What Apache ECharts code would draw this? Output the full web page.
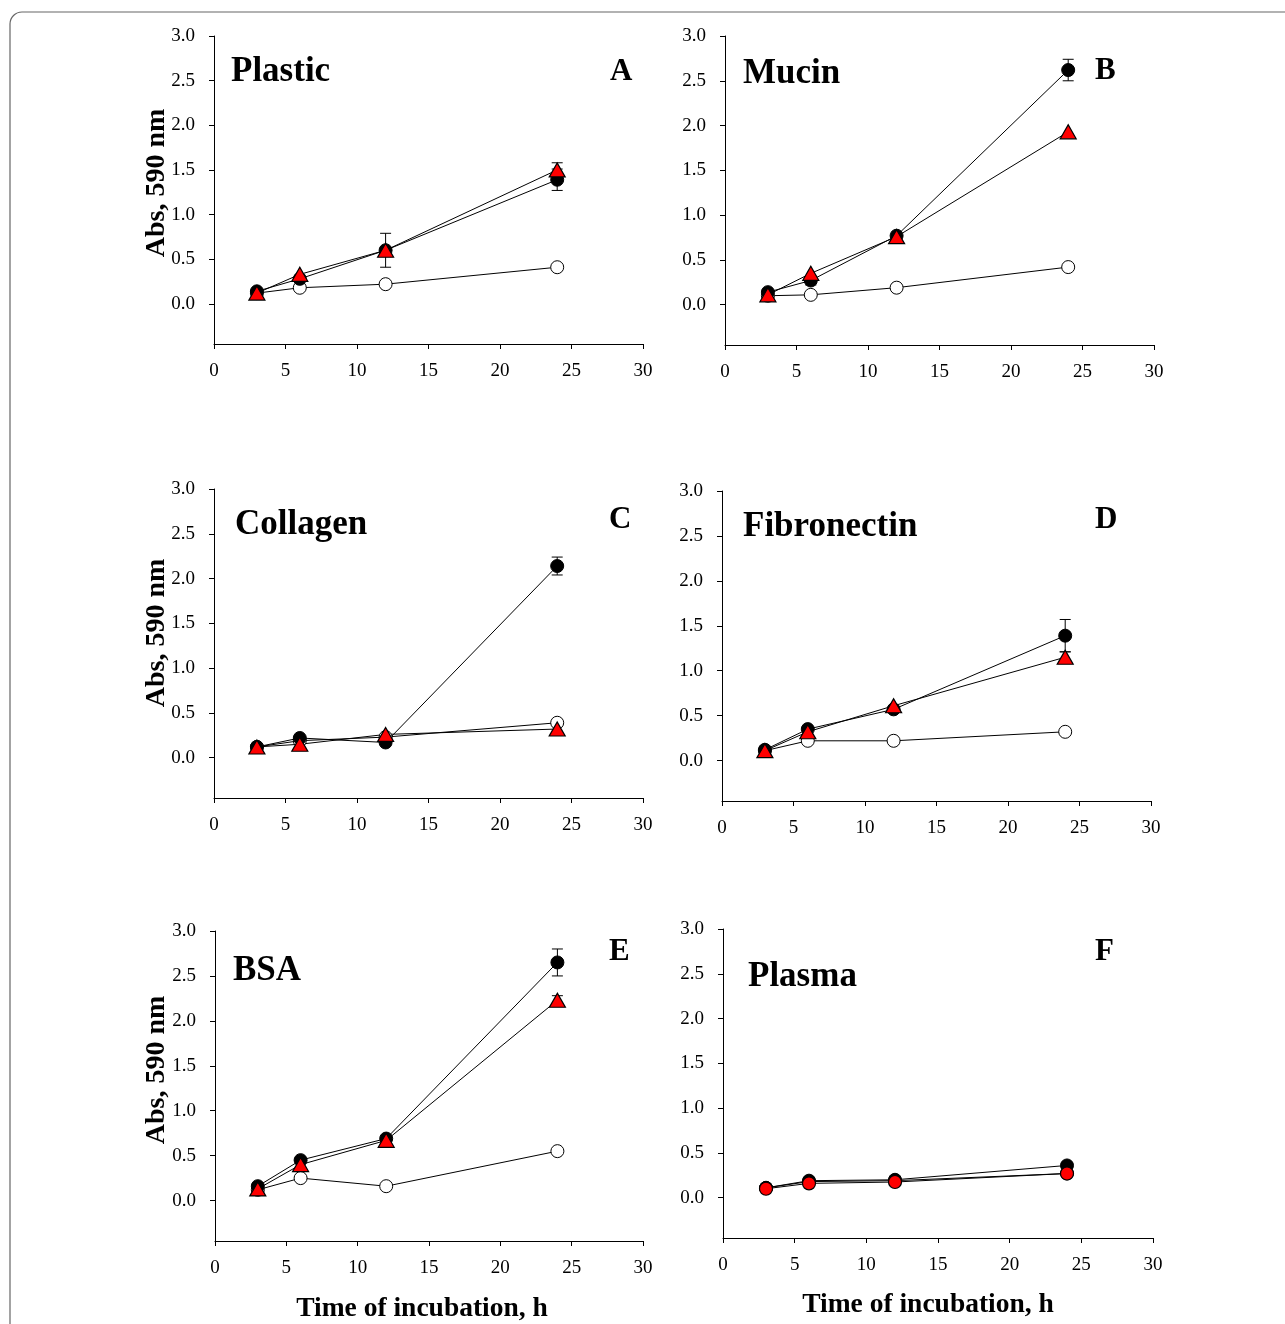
<!DOCTYPE html>
<html>
<head>
<meta charset="utf-8">
<script src="https://cdn.jsdelivr.net/npm/echarts@6/dist/echarts.min.js"></script>
<style>
  html, body { margin: 0; padding: 0; background: #fff; }
  #chart { width: 1285px; height: 1324px; }
</style>
</head>
<body>
<div id="chart"></div>
<script>
// time points (h) and axis ticks
const hours = [3, 6, 12, 24];
const xTicks = [0, 5, 10, 15, 20, 25, 30];
const yTicks = [0, 0.5, 1.0, 1.5, 2.0, 2.5, 3.0];

const panelNames = ["Plastic", "Mucin", "Collagen", "Fibronectin", "BSA", "Plasma"];
const panelLetters = ["A", "B", "C", "D", "E", "F"];

// one row per panel (A..F), one value per time point
const blackMeans = [
  [0.14, 0.28, 0.60, 1.39],
  [0.14, 0.27, 0.77, 2.62],
  [0.12, 0.22, 0.17, 2.14],
  [0.12, 0.35, 0.57, 1.39],
  [0.16, 0.45, 0.69, 2.65],
  [0.11, 0.19, 0.20, 0.36],
];
const blackErrors = [
  [0, 0, 0.19, 0.12],
  [0, 0.05, 0, 0.12],
  [0, 0, 0, 0.10],
  [0, 0, 0, 0.18],
  [0, 0, 0, 0.15],
  [0, 0, 0, 0.03],
];
const openMeans = [
  [0.12, 0.18, 0.22, 0.41],
  [0.10, 0.11, 0.19, 0.42],
  [0.12, 0.19, 0.23, 0.39],
  [0.11, 0.22, 0.22, 0.32],
  [0.12, 0.25, 0.16, 0.55],
  [0.11, 0.18, 0.19, 0.27],
];
const openErrors = [
  [0, 0, 0, 0],
  [0, 0, 0, 0.03],
  [0, 0, 0, 0],
  [0, 0, 0, 0],
  [0, 0, 0, 0],
  [0, 0, 0, 0],
];
const redMeans = [
  [0.12, 0.33, 0.60, 1.50],
  [0.11, 0.35, 0.76, 1.93],
  [0.12, 0.15, 0.26, 0.32],
  [0.11, 0.32, 0.61, 1.15],
  [0.13, 0.40, 0.67, 2.23],
  [0.10, 0.16, 0.175, 0.27],
];
const redErrors = [
  [0, 0, 0, 0.08],
  [0, 0, 0, 0],
  [0, 0, 0, 0.05],
  [0, 0, 0, 0.06],
  [0, 0, 0, 0.05],
  [0, 0, 0, 0],
];

const FONT = "'Liberation Serif', 'Times New Roman', serif";

// plot areas in px: left, top, width, height
const grids = [
  [214, 36, 429, 308],
  [725, 36, 429, 309],
  [214, 489, 429, 309],
  [722, 491, 429, 310],
  [215, 931, 428, 310],
  [723, 929, 430, 309],
];
// title / letter anchor points (left x, middle y)
const titlePos = [[231, 72], [743, 74], [235, 525], [743, 527], [233, 971], [748, 977]];
const letterPos = [[610, 72], [1095, 71], [609, 520], [1095, 520], [609, 952], [1095, 952]];

const chart = echarts.init(document.getElementById("chart"));

const pairs = (ys) => hours.map((h, k) => [h, ys[k]]);
const errPairs = (ys, es) =>
  hours.map((h, k) => [h, ys[k], es[k]]).filter((d) => d[2] > 0);

const renderErr = (params, api) => {
  const x = api.value(0);
  const y = api.value(1);
  const e = api.value(2);
  const hi = api.coord([x, y + e]);
  const lo = api.coord([x, y - e]);
  const w = 5.5;
  const st = { stroke: "#000", lineWidth: 1 };
  return {
    type: "group",
    children: [
      { type: "line", shape: { x1: hi[0], y1: hi[1], x2: lo[0], y2: lo[1] }, style: st },
      { type: "line", shape: { x1: hi[0] - w, y1: hi[1], x2: hi[0] + w, y2: hi[1] }, style: st },
      { type: "line", shape: { x1: lo[0] - w, y1: lo[1], x2: lo[0] + w, y2: lo[1] }, style: st },
    ],
  };
};

const xAxes = [];
const yAxes = [];
const series = [];
const graphics = [
  {
    type: "rect",
    shape: { x: 10, y: 12, width: 1400, height: 1400, r: 12 },
    style: { fill: "none", stroke: "#666", lineWidth: 1.2 },
    silent: true,
  },
];

grids.forEach((g, i) => {
  xAxes.push({
    gridIndex: i,
    type: "value",
    min: 0,
    max: 30,
    interval: 5,
    axisLine: { onZero: false, lineStyle: { color: "#000", width: 1 } },
    axisTick: { length: 5, lineStyle: { color: "#000" } },
    axisLabel: { color: "#000", fontSize: 19, fontFamily: FONT, margin: 18 },
    splitLine: { show: false },
  });
  yAxes.push({
    gridIndex: i,
    type: "value",
    min: -0.45,
    max: 3.0,
    axisLine: { show: true, onZero: false, lineStyle: { color: "#000", width: 1 } },
    axisTick: { show: true, length: 5, customValues: yTicks, lineStyle: { color: "#000" } },
    axisLabel: {
      color: "#000",
      fontSize: 19,
      fontFamily: FONT,
      margin: 19,
      customValues: yTicks,
      formatter: (v) => v.toFixed(1),
    },
    splitLine: { show: false },
  });

  const common = {
    type: "line",
    xAxisIndex: i,
    yAxisIndex: i,
    lineStyle: { color: "#000", width: 1 },
    emphasis: { disabled: true },
    animation: false,
  };

  [
    [openMeans[i], openErrors[i]],
    [blackMeans[i], blackErrors[i]],
    [redMeans[i], redErrors[i]],
  ].forEach(([m, e]) => {
    series.push({
      type: "custom",
      xAxisIndex: i,
      yAxisIndex: i,
      z: 1,
      renderItem: renderErr,
      data: errPairs(m, e),
      animation: false,
    });
  });

  series.push(Object.assign({}, common, {
    name: "open",
    symbol: "circle",
    symbolSize: 13,
    itemStyle: { color: "#fff", borderColor: "#000", borderWidth: 1 },
    data: pairs(openMeans[i]),
  }));
  series.push(Object.assign({}, common, {
    name: "filled",
    symbol: "circle",
    symbolSize: 13,
    itemStyle: { color: "#000", borderColor: "#000", borderWidth: 1 },
    data: pairs(blackMeans[i]),
  }));
  series.push(Object.assign({}, common, {
    name: "red",
    symbol: i === 5 ? "circle" : "triangle",
    symbolSize: i === 5 ? 13 : [16, 14],
    itemStyle: { color: "#ff0000", borderColor: "#000", borderWidth: 1.2 },
    data: pairs(redMeans[i]),
  }));

  graphics.push({
    type: "text",
    x: titlePos[i][0],
    y: titlePos[i][1],
    style: {
      text: panelNames[i],
      font: "bold 35px " + FONT,
      fill: "#000",
      textAlign: "left",
      textVerticalAlign: "middle",
    },
  });
  graphics.push({
    type: "text",
    x: letterPos[i][0],
    y: letterPos[i][1],
    style: {
      text: panelLetters[i],
      font: "bold 31px " + FONT,
      fill: "#000",
      textAlign: "left",
      textVerticalAlign: "middle",
    },
  });
});

// axis titles
[[157, 183], [157, 633], [157, 1070]].forEach((p) => {
  graphics.push({
    type: "text",
    x: p[0],
    y: p[1],
    rotation: Math.PI / 2,
    style: {
      text: "Abs, 590 nm",
      font: "bold 28px " + FONT,
      fill: "#000",
      textAlign: "center",
      textVerticalAlign: "middle",
    },
  });
});
[[422, 1309], [928, 1305]].forEach((p) => {
  graphics.push({
    type: "text",
    x: p[0],
    y: p[1],
    style: {
      text: "Time of incubation, h",
      font: "bold 27.5px " + FONT,
      fill: "#000",
      textAlign: "center",
      textVerticalAlign: "middle",
    },
  });
});

chart.setOption({
  backgroundColor: "#fff",
  animation: false,
  grid: grids.map((g) => ({ left: g[0], top: g[1], width: g[2], height: g[3] })),
  xAxis: xAxes,
  yAxis: yAxes,
  series: series,
  graphic: graphics,
});
</script>
</body>
</html>
